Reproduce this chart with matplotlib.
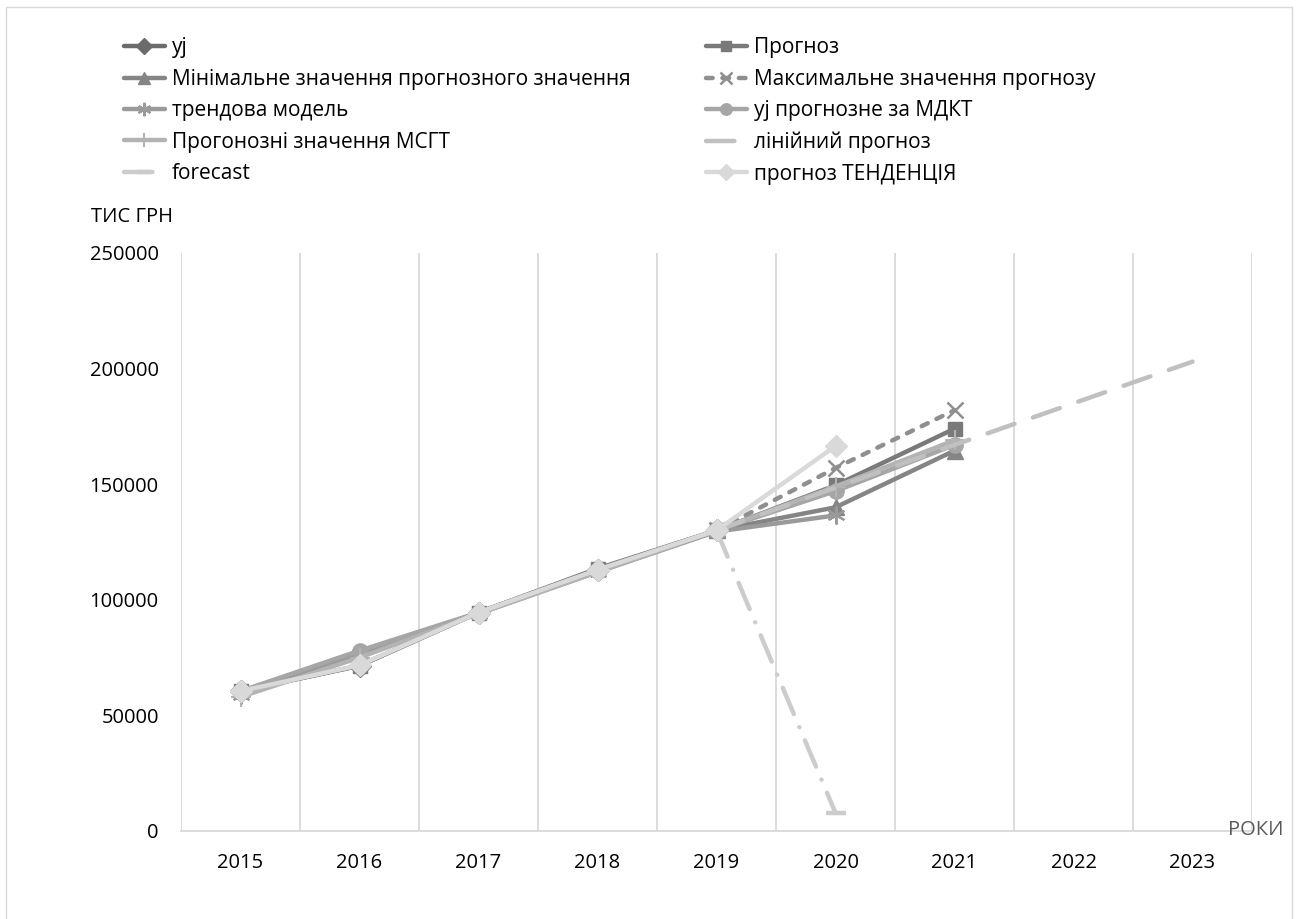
import numpy as np
import matplotlib
matplotlib.use('Agg')
import matplotlib.pyplot as plt

plt.rcParams['font.family'] = ['Open Sans', 'DejaVu Sans']

nan = np.nan
years = ['2015', '2016', '2017', '2018', '2019', '2020', '2021', '2022', '2023']

# значення рядів, тис грн
yj = [60500, 71500, 94500, 113000, 130000, nan, nan, nan, nan]
prognoz = [60500, 71500, 94500, 113500, 130000, 149500, 174000, nan, nan]
min_prognoz = [nan, nan, nan, nan, 130000, 140000, 164500, nan, nan]
max_prognoz = [nan, nan, nan, nan, 130000, 157000, 182000, nan, nan]
trend = [59000, 76500, 94000, 112000, 129500, 136500, nan, nan, nan]
mdkt = [60500, 78000, 94500, 112500, 130000, 147000, 167000, nan, nan]
msgt = [58000, 75000, 94000, 112000, 130000, 149000, 169000, nan, nan]
linear = [nan, nan, nan, nan, 130000, 148500, 167000, 185000, 203000]
forecast = [nan, nan, nan, nan, 130000, 7800, nan, nan, nan]
tendency = [60500, 71700, 94500, 113000, 130000, 166500, nan, nan, nan]

W, H = 1299, 919
fig = plt.figure(figsize=(W / 100, H / 100), dpi=100)
ax = fig.add_axes([181 / W, 1 - 831 / H, (1252 - 181) / W, (831 - 253) / H])

x = np.arange(len(years))
lw = 3.2
common = dict(lw=lw, solid_capstyle='round', dash_capstyle='round')

h = {}
h['yj'] = ax.plot(x, yj, color='#6b6b6b', marker='D', ms=11, label='yj', **common)[0]
h['prognoz'] = ax.plot(x, prognoz, color='#7a7a7a', marker='s', ms=10, label='Прогноз', **common)[0]
h['min'] = ax.plot(x, min_prognoz, color='#858585', marker='^', ms=11,
                   label='Мінімальне значення прогнозного значення', **common)[0]
h['max'] = ax.plot(x, max_prognoz, color='#8f8f8f', marker='x', ms=11, mew=1.8,
                   ls=(0, (1.5, 2.2)), label='Максимальне значення прогнозу', **common)[0]
h['trend'] = ax.plot(x, trend, color='#9a9a9a', marker=(6, 2, 0), ms=13, mew=1.5,
                     label='трендова модель', **common)[0]
h['mdkt'] = ax.plot(x, mdkt, color='#a6a6a6', marker='o', ms=11,
                    label='yj прогнозне за МДКТ', **common)[0]
h['msgt'] = ax.plot(x, msgt, color='#b3b3b3', marker='+', ms=14, mew=1.5,
                    label='Прогонозні значення МСГТ', **common)[0]
h['linear'] = ax.plot(x, linear, color='#c0c0c0', ls=(0, (6.4, 4.4)),
                      label='лінійний прогноз', **common)[0]
h['forecast'] = ax.plot(x, forecast, color='#cccccc', ls=(0, (6.4, 3.2, 0.01, 3.2)),
                        marker='_', ms=14, mew=lw, label='forecast', **common)[0]
h['tendency'] = ax.plot(x, tendency, color='#d9d9d9', marker='D', ms=11,
                        label='прогноз ТЕНДЕНЦІЯ', **common)[0]

ax.set_xlim(-0.5, len(years) - 0.5)
ax.set_ylim(0, 250000)
ax.set_xticks(x)
ax.set_xticklabels(years)
ax.set_xticks(np.arange(-0.5, len(years), 1), minor=True)
ax.set_yticks(range(0, 250001, 50000))
ax.set_yticklabels([str(v) for v in range(0, 250001, 50000)])
ax.tick_params(axis='both', which='both', length=0, labelsize=14.5, colors='black')
ax.tick_params(axis='x', pad=16)
ax.tick_params(axis='y', pad=16)
ax.grid(which='minor', axis='x', color='#d9d9d9', lw=1.3)
for s in ['top', 'left', 'right']:
    ax.spines[s].set_visible(False)
ax.spines['bottom'].set_color('#d9d9d9')
ax.spines['bottom'].set_linewidth(1.3)
ax.set_axisbelow(True)

fig.text(91 / W, 1 - 217 / H, 'ТИС ГРН', fontsize=14.5, va='center', ha='left')
fig.text(1228 / W, 1 - 830 / H, 'РОКИ', fontsize=14.5, color='#595959', va='center', ha='left')

# легенда у два стовпці
leg_opts = dict(loc='upper left', frameon=False, fontsize=15, borderpad=0, borderaxespad=0,
                handlelength=1.95, handletextpad=0.35, labelspacing=0.5, markerscale=0.75)
col1 = [h['yj'], h['min'], h['trend'], h['msgt'], h['forecast']]
col2 = [h['prognoz'], h['max'], h['mdkt'], h['linear'], h['tendency']]
leg1 = fig.legend(handles=col1, bbox_to_anchor=(124 / W, 1 - 37.5 / H), **leg_opts)
leg2 = fig.legend(handles=col2, bbox_to_anchor=(706 / W, 1 - 37.5 / H), **leg_opts)

# рамка діаграми
fig.add_artist(plt.Rectangle((6 / W, -0.1), (1292 - 6) / W, 1.1 - 7 / H,
                             transform=fig.transFigure, fill=False,
                             edgecolor='#d9d9d9', lw=1))

fig.savefig('out.png', dpi=100)
